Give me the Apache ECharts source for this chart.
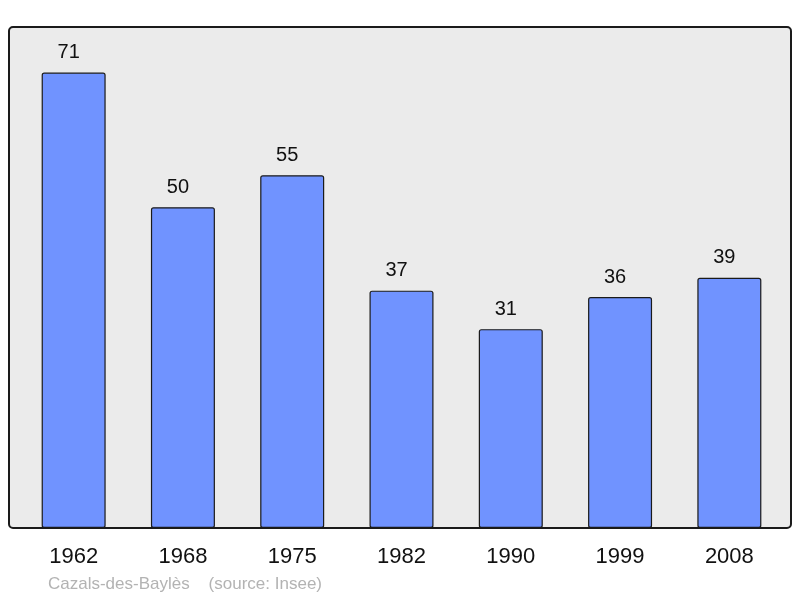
<!DOCTYPE html>
<html><head><meta charset="utf-8">
<script src="https://cdn.jsdelivr.net/npm/echarts@6/dist/echarts.min.js"></script>
<style>html,body{margin:0;padding:0;background:#fff}#c{width:800px;height:598px}</style>
</head><body><div id="c"></div>
<script>
var years = ['1962','1968','1975','1982','1990','1999','2008'];
var population = [71, 50, 55, 37, 31, 36, 39];
var footer = 'Cazals-des-Baylès    (source: Insee)';

var chart = echarts.init(document.getElementById('c'), null, {renderer:'canvas'});
chart.setOption({
  animation: false,
  graphic: [
    {type:'rect', z:-1, shape:{x:9, y:27, width:782, height:501, r:4},
     style:{fill:'#ebebeb', stroke:'#1a1a1a', lineWidth:2}},
    {type:'text', left:48, top:576, style:{text:footer, fill:'#b3b3b3', font:'17px "Liberation Sans", Arial, sans-serif'}}
  ],
  grid: {left:19, right:16, top:27, bottom:70},
  xAxis: {
    type:'category', data: years,
    axisLine:{show:false}, axisTick:{show:false},
    axisLabel:{color:'#111', fontSize:22, fontFamily:'Liberation Sans, Arial, sans-serif', margin:18}
  },
  yAxis: {type:'value', min:0, max:78.1, show:false, splitLine:{show:false}},
  series: [{
    type:'bar', data: population, barWidth:64,
    itemStyle:{color:'#7093ff', borderColor:'#1a1a1a', borderWidth:1.2, borderRadius:2},
    label:{show:true, position:'top', distance:10, offset:[-5,0], color:'#111', fontSize:20, fontFamily:'Liberation Sans, Arial, sans-serif'}
  }]
});
</script></body></html>
